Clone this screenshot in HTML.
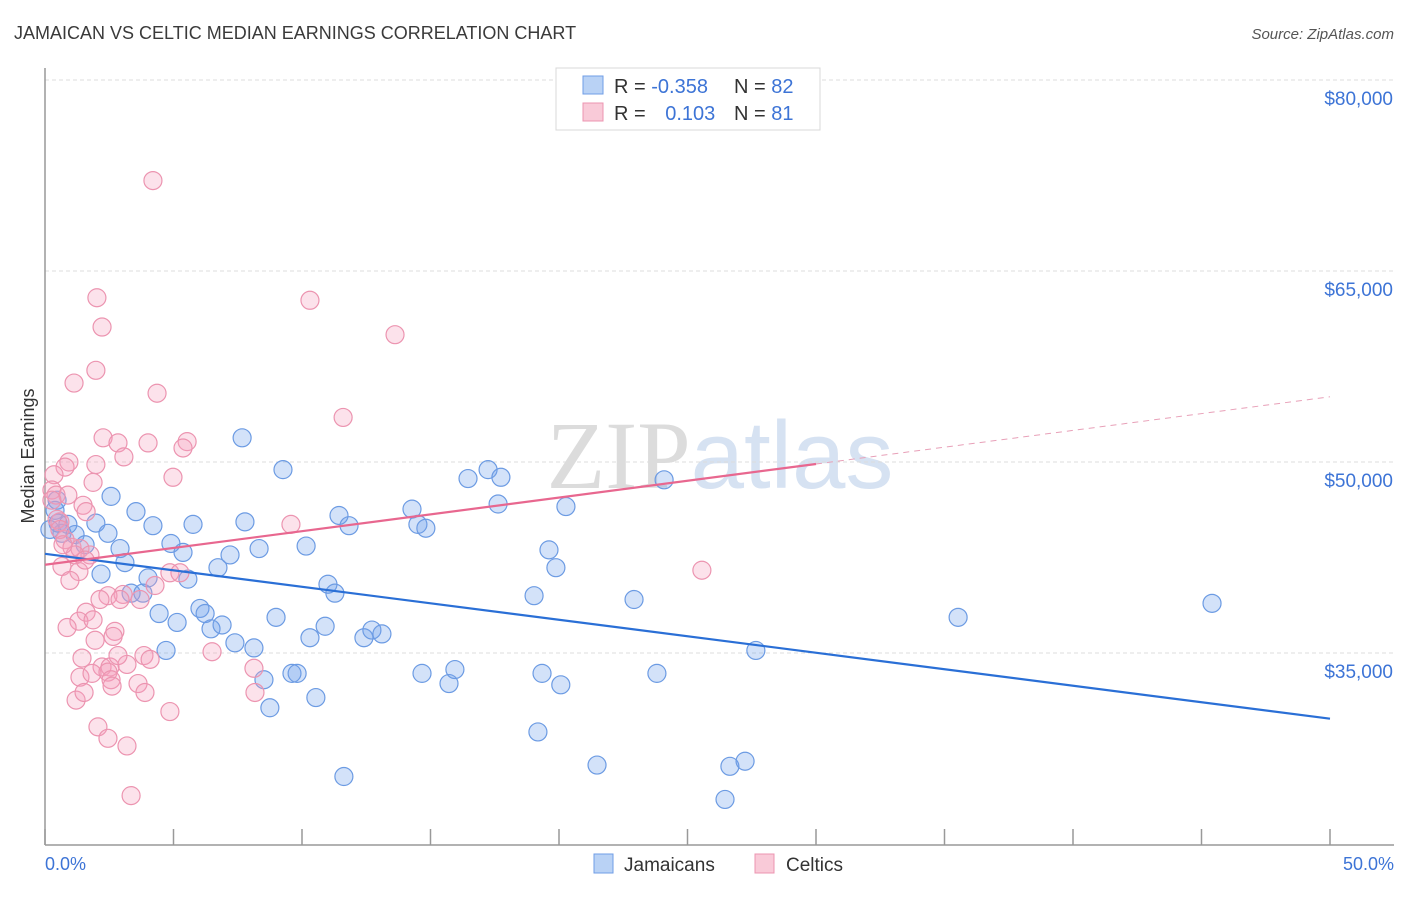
<!DOCTYPE html>
<html><head><meta charset="utf-8"><style>
body{margin:0;background:#fff;font-family:"Liberation Sans",sans-serif}
</style></head><body>
<svg id="chart" width="1406" height="892" xmlns="http://www.w3.org/2000/svg">
<text x="14" y="39" font-size="18" fill="#3a3a3a">JAMAICAN VS CELTIC MEDIAN EARNINGS CORRELATION CHART</text>
<text x="1394" y="39" font-size="15" fill="#555" text-anchor="end" font-style="italic">Source: ZipAtlas.com</text>
<text x="720" y="488" font-size="96" text-anchor="middle" fill="#e4e8ee" font-family="Liberation Serif"><tspan fill="#dcdcdc">ZIP</tspan><tspan fill="#d6e2f2" font-family="Liberation Sans">atlas</tspan></text>
<g id="grid"></g>
<g id="axes"></g>
<g id="pts"></g>
<g id="lines"></g>
<text transform="translate(34,456) rotate(-90)" font-size="18" fill="#333" text-anchor="middle">Median Earnings</text>
<text x="45" y="870" font-size="18" fill="#3d74d6">0.0%</text>
<text x="1394" y="870" font-size="18" fill="#3d74d6" text-anchor="end">50.0%</text>
<g>
<rect x="556" y="68" width="264" height="62" fill="#fff" stroke="#d8d8d8"/>
<rect x="583" y="76" width="20" height="18" fill="#b9d2f5" stroke="#6f9de6"/>
<rect x="583" y="103" width="20" height="18" fill="#f9cad8" stroke="#ec94b0"/>
<text x="614" y="93" font-size="20" fill="#333">R = <tspan fill="#3d74d6">-0.358</tspan></text>
<text x="734" y="93" font-size="20" fill="#333">N = <tspan fill="#3d74d6">82</tspan></text>
<text x="614" y="120" font-size="20" fill="#333">R = <tspan fill="#3d74d6" dx="14">0.103</tspan></text>
<text x="734" y="120" font-size="20" fill="#333">N = <tspan fill="#3d74d6">81</tspan></text>
</g>
<g>
<rect x="594" y="854" width="19" height="19" fill="#b9d2f5" stroke="#6f9de6"/>
<text x="624" y="871" font-size="19" fill="#333">Jamaicans</text>
<rect x="755" y="854" width="19" height="19" fill="#f9cad8" stroke="#ec94b0"/>
<text x="786" y="871" font-size="19" fill="#333">Celtics</text>
</g>
</svg>
<script>
const yTicks=[35000,50000,65000,80000];
const yTickLabels=["$35,000","$50,000","$65,000","$80,000"];
const xTicks=[0,5,10,15,20,25,30,35,40,45,50];
const jamX=[0.39,0.51,0.66,0.89,1.17,1.56,1.98,2.18,2.45,2.57,2.92,3.11,3.35,3.54,3.81,4.01,4.20,4.44,4.71,4.90,5.14,5.37,5.56,5.76,6.03,6.23,6.46,6.73,6.89,7.20,7.39,7.67,7.78,8.13,8.33,8.52,8.75,8.99,9.26,9.61,9.81,10.16,10.31,10.54,10.90,11.01,11.28,11.44,11.63,11.83,12.41,12.72,13.11,14.28,14.51,14.67,14.82,15.72,15.95,16.46,17.24,17.63,17.74,19.03,19.18,19.34,19.61,19.88,20.07,20.27,21.48,22.92,23.81,24.09,26.46,26.65,27.24,27.66,35.53,45.41,0.47,0.19];
const jamY=[46.2,45.2,44.4,45.1,44.3,43.5,45.2,41.2,44.4,47.3,43.2,42.1,39.7,46.1,39.7,40.9,45.0,38.1,35.2,43.6,37.4,42.9,40.8,45.1,38.5,38.1,36.9,41.7,37.2,42.7,35.8,51.9,45.3,35.4,43.2,32.9,30.7,37.8,49.4,33.4,33.4,43.4,36.2,31.5,37.1,40.4,39.7,45.8,25.3,45.0,36.2,36.8,36.5,46.3,45.1,33.4,44.8,32.6,33.7,48.7,49.4,46.7,48.8,39.5,28.8,33.4,43.1,41.7,32.5,46.5,26.2,39.2,33.4,48.6,23.5,26.1,26.5,35.2,37.8,38.9,47.0,44.7];
const celX=[4.20,2.02,10.31,2.22,13.62,1.98,1.13,4.36,11.60,2.26,2.84,4.01,5.53,5.37,3.07,0.93,0.78,1.98,0.35,4.98,1.87,0.27,0.43,0.89,1.48,1.60,9.57,0.58,0.78,1.05,1.36,1.75,0.66,1.32,4.86,5.25,4.28,3.04,2.45,2.92,1.60,1.32,1.87,0.86,2.72,2.65,1.44,2.22,2.53,3.19,3.85,4.09,1.36,1.83,2.45,2.57,2.61,3.62,3.89,8.13,6.50,25.56,1.21,1.52,2.06,2.45,3.19,4.86,8.17,3.35,0.47,0.58,0.27,1.17,0.97,0.70,1.56,2.14,1.95,3.70,2.84];
const celY=[72.1,62.9,62.7,60.6,60.0,57.2,56.2,55.4,53.5,51.9,51.5,51.5,51.6,51.1,50.4,50.0,49.6,49.8,49.0,48.8,48.4,47.8,47.4,47.4,46.6,46.1,45.1,45.3,43.9,43.3,43.2,42.7,41.8,41.4,41.3,41.3,40.3,39.6,39.5,39.2,38.2,37.5,37.6,37.0,36.7,36.3,34.6,33.9,33.9,34.1,34.8,34.5,33.1,33.4,33.5,32.9,32.4,32.6,31.9,33.8,35.1,41.5,31.3,31.9,29.2,28.3,27.7,30.4,31.9,23.8,45.5,44.7,47.0,42.7,40.7,43.5,42.3,39.2,36.0,39.2,34.8];
const jamTrend=[42.79,29.84];
const celTrend=[41.93,55.12];
const celSolidEnd=30;

const NS="http://www.w3.org/2000/svg";
function xs(p){return 45+p/50*1285;}
function ys(v){return 80+(80000-v)*191/15000;}
function mk(tag,attrs,parent){const e=document.createElementNS(NS,tag);for(const k in attrs)e.setAttribute(k,attrs[k]);document.getElementById(parent).appendChild(e);return e;}
yTicks.forEach((t,i)=>{
  const g=mk('line',{x1:45,x2:1394,y1:ys(t),y2:ys(t),stroke:'#dcdcdc','stroke-dasharray':'4,3'},'grid');
  
  
  const l=mk('text',{x:1393,y:ys(t)+25,'font-size':19,fill:'#3d74d6','text-anchor':'end'},'grid');
  
  
  l.textContent=yTickLabels[i];
});
const ax=mk('line',{x1:45,x2:45,y1:68,y2:845,stroke:'#999','stroke-width':1.5},'axes');


const bx=mk('line',{x1:45,x2:1394,y1:845,y2:845,stroke:'#999','stroke-width':1.5},'axes');


xTicks.forEach(t=>{
  const tk=mk('line',{x1:xs(t),x2:xs(t),y1:829,y2:845,stroke:'#999','stroke-width':1.5},'axes');
  
  
});
jamX.forEach((x,i)=>{
  const c=mk('circle',{cx:xs(x),cy:ys(jamY[i]*1000),r:9,fill:'rgba(110,160,235,0.3)',stroke:'#6c9be3','stroke-width':1.2},'pts');
  
  
});
celX.forEach((x,i)=>{
  const c=mk('circle',{cx:xs(x),cy:ys(celY[i]*1000),r:9,fill:'rgba(245,160,190,0.3)',stroke:'#ec94b0','stroke-width':1.2},'pts');
  
  
});
const jl=mk('line',{x1:xs(0),y1:ys(jamTrend[0]*1000),x2:xs(50),y2:ys(jamTrend[1]*1000),stroke:'#2a6fd6','stroke-width':2.2},'lines');


const cm=celTrend[0]+(celTrend[1]-celTrend[0])*celSolidEnd/50;
const cl=mk('line',{x1:xs(0),y1:ys(celTrend[0]*1000),x2:xs(celSolidEnd),y2:ys(cm*1000),stroke:'#e8678f','stroke-width':2.2},'lines');


const cd=mk('line',{x1:xs(celSolidEnd),y1:ys(cm*1000),x2:xs(50),y2:ys(celTrend[1]*1000),stroke:'#e8a0b8','stroke-width':1,'stroke-dasharray':'6,5'},'lines');


</script>
</body></html>
